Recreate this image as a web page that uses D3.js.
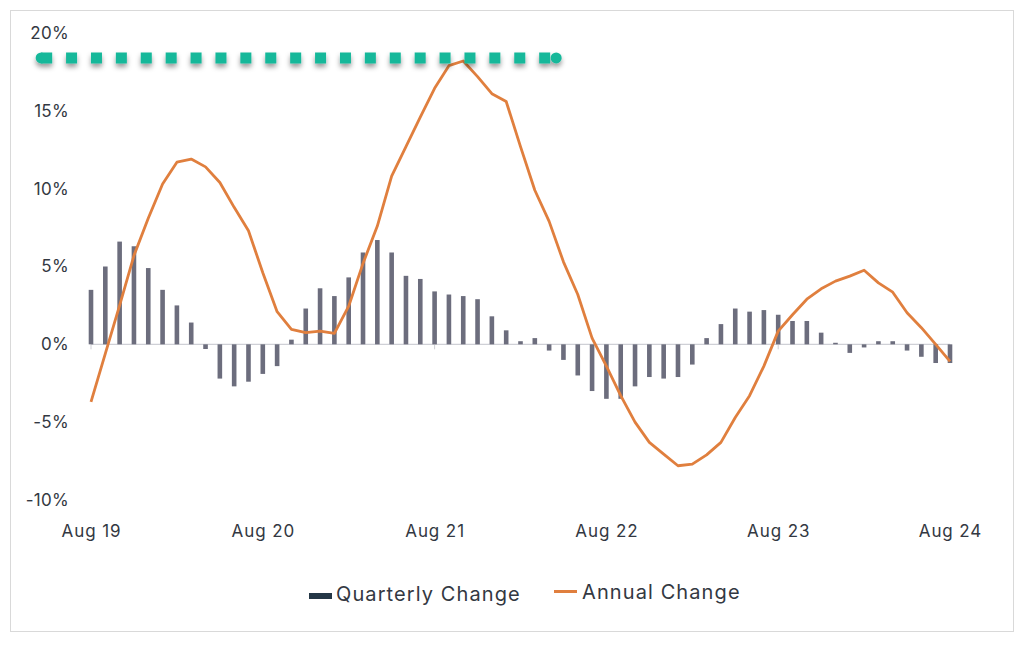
<!DOCTYPE html>
<html>
<head>
<meta charset="utf-8">
<script src="https://cdn.jsdelivr.net/npm/d3@7"></script>
<style>
  html, body { margin: 0; padding: 0; background: #fff; }
  svg { display: block; }
  text { font-family: "Inter", "Open Sans", sans-serif; fill: #333842; }
</style>
</head>
<body>
<svg id="chart" width="1024" height="645"></svg>
<script>
// ---- Data ----
const months = d3.timeMonth.range(new Date(2019, 7, 1), new Date(2024, 8, 1)); // Aug 19 .. Aug 24
const categories = months.map(d3.timeFormat("%b %y"));

const quarterlyChange = [
  3.5, 5.0, 6.6, 6.3, 4.9, 3.5, 2.5, 1.4, -0.3, -2.2, -2.7, -2.4,
  -1.9, -1.4, 0.3, 2.3, 3.6, 3.1, 4.3, 5.9, 6.7, 5.9, 4.4, 4.2,
  3.4, 3.2, 3.1, 2.9, 1.8, 0.9, 0.2, 0.4, -0.4, -1.0, -2.0, -3.0,
  -3.5, -3.5, -2.7, -2.1, -2.2, -2.1, -1.3, 0.4, 1.3, 2.3, 2.1, 2.2,
  1.9, 1.5, 1.5, 0.75, 0.1, -0.55, -0.2, 0.2, 0.2, -0.4, -0.8, -1.2,
  -1.2
];

const annualChange = [
  -3.7, -0.6, 2.5, 5.7, 8.1, 10.3, 11.7, 11.9, 11.4, 10.4, 8.8, 7.3,
  4.6, 2.1, 0.96, 0.75, 0.85, 0.7, 2.45, 5.2, 7.6, 10.8, 12.7, 14.6,
  16.45, 17.9, 18.2, 17.2, 16.1, 15.6, 12.7, 9.9, 7.9, 5.3, 3.2, 0.4,
  -1.4, -3.3, -5.0, -6.3, -7.05, -7.8, -7.7, -7.1, -6.3, -4.7, -3.3, -1.4,
  0.85, 1.9, 2.9, 3.57, 4.06, 4.38, 4.76, 3.95, 3.35, 2.03, 1.07, 0.0,
  -1.1
];

const yTicks = [-10, -5, 0, 5, 10, 15, 20];
const xTickLabels = ["Aug 19", "Aug 20", "Aug 21", "Aug 22", "Aug 23", "Aug 24"];

// Teal dotted reference line (level in %, span in month index)
const refLevel = 18.4;
const refSpan = [-3.9, 32.7];

const seriesNames = ["Quarterly Change", "Annual Change"];

// ---- Layout ----
const svg = d3.select("#chart");
const plot = { left: 91, right: 950, top: 33, bottom: 500 };

const COL_BAR = "#6c6d7d";
const COL_LINE = "#e07f3e";
const COL_TEAL = "#15b89a";
const COL_LEGEND_BAR = "#243746";

// frame
svg.append("rect")
  .attr("x", 10.5).attr("y", 10.5).attr("width", 1003).attr("height", 621)
  .attr("fill", "none").attr("stroke", "#d9d9d9").attr("stroke-width", 1);

const x = d3.scaleLinear().domain([0, categories.length - 1]).range([plot.left, plot.right]);
const y = d3.scaleLinear().domain([-10, 20]).range([plot.bottom, plot.top]);

// Y axis labels
const yAxis = d3.axisLeft(y).tickValues(yTicks).tickFormat(d => d + "%").tickSize(0).tickPadding(0);
const gy = svg.append("g").attr("transform", "translate(69,0)").call(yAxis);
gy.select(".domain").remove();
gy.selectAll("text").style("font-size", "17px").style("letter-spacing", "0.3px")
  .attr("font-family", null).attr("fill", "#333842");

// X axis labels (at bottom)
const xTickIdx = xTickLabels.map(l => categories.indexOf(l));
const xAxis = d3.axisBottom(x).tickValues(xTickIdx).tickFormat(i => categories[i]).tickSize(0).tickPadding(0);
const gx = svg.append("g").attr("transform", "translate(0,525)").call(xAxis);
gx.select(".domain").remove();
gx.selectAll("text").style("font-size", "17px").style("letter-spacing", "0.9px")
  .attr("font-family", null).attr("fill", "#333842");

// Zero baseline with small ticks
svg.append("line")
  .attr("x1", x(0)).attr("x2", x(categories.length - 1))
  .attr("y1", y(0)).attr("y2", y(0))
  .attr("stroke", "#cfd0d6").attr("stroke-width", 1.2);
svg.append("g").selectAll("line").data(xTickIdx).join("line")
  .attr("x1", d => x(d)).attr("x2", d => x(d))
  .attr("y1", y(0)).attr("y2", y(0) + 5)
  .attr("stroke", "#cfd0d6").attr("stroke-width", 1);

// Bars
const barW = 4.6;
svg.append("g").selectAll("rect").data(quarterlyChange).join("rect")
  .attr("x", (d, i) => x(i) - barW / 2)
  .attr("y", d => y(Math.max(0, d)))
  .attr("width", barW)
  .attr("height", d => Math.abs(y(d) - y(0)))
  .attr("fill", COL_BAR);

// Annual line
const line = d3.line().x((d, i) => x(i)).y(d => y(d));
svg.append("path")
  .datum(annualChange)
  .attr("d", line)
  .attr("fill", "none")
  .attr("stroke", COL_LINE)
  .attr("stroke-width", 2.8)
  .attr("stroke-linejoin", "round");

// Teal dotted reference line with shadow
const defs = svg.append("defs");
const f = defs.append("filter").attr("id", "shadow").attr("x", "-5%").attr("y", "-200%").attr("width", "110%").attr("height", "500%");
f.append("feDropShadow").attr("dx", 0).attr("dy", 3.5).attr("stdDeviation", 2.5)
  .attr("flood-color", "#000").attr("flood-opacity", 0.4);

const gRef = svg.append("g").attr("filter", "url(#shadow)");
const rx0 = x(refSpan[0]), rx1 = x(refSpan[1]), ry = y(refLevel);
const dash = 11, period = 24.9;
const lx1 = rx0 + 6;
const nDash = Math.round((rx1 - 12 - lx1 - dash) / period);
const lx2 = lx1 + nDash * period + dash;
gRef.append("line")
  .attr("x1", lx1).attr("x2", lx2)
  .attr("y1", ry).attr("y2", ry)
  .attr("stroke", COL_TEAL).attr("stroke-width", 11)
  .attr("stroke-dasharray", dash + "," + (period - dash));
gRef.append("circle").attr("cx", lx1).attr("cy", ry).attr("r", 5.5).attr("fill", COL_TEAL);
gRef.append("circle").attr("cx", lx2 + 6).attr("cy", ry).attr("r", 5.5).attr("fill", COL_TEAL);

// Legend
const lg = svg.append("g");
lg.append("rect").attr("x", 309).attr("y", 593).attr("width", 23).attr("height", 6).attr("fill", COL_LEGEND_BAR);
lg.append("text").attr("x", 336).attr("y", 601).style("font-size", "20px").style("letter-spacing", "1.1px").text(seriesNames[0]);
lg.append("line").attr("x1", 554).attr("x2", 577).attr("y1", 591.5).attr("y2", 591.5)
  .attr("stroke", COL_LINE).attr("stroke-width", 3);
lg.append("text").attr("x", 582).attr("y", 599).style("font-size", "20px").style("letter-spacing", "1.1px").text(seriesNames[1]);
</script>
</body>
</html>
